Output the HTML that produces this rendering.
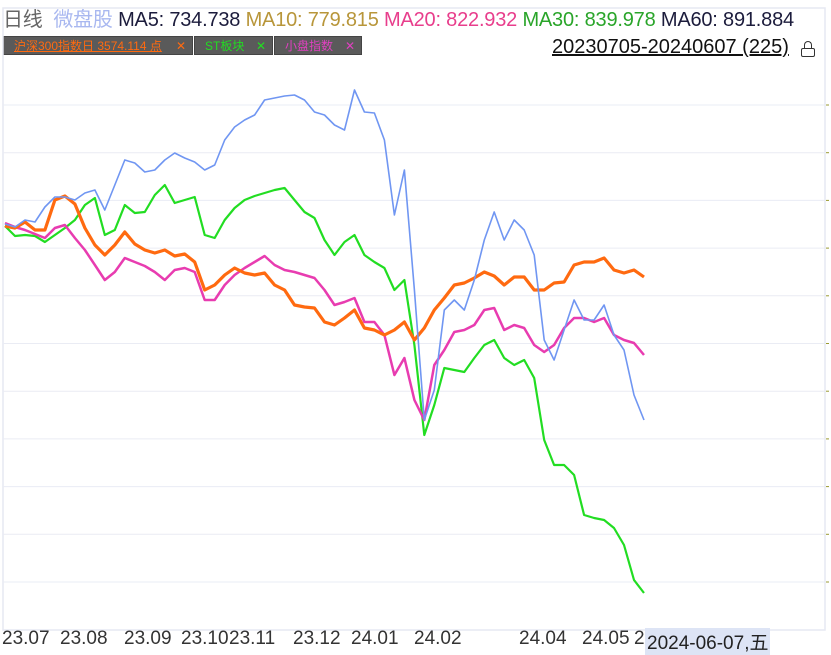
<!DOCTYPE html>
<html><head><meta charset="utf-8"><style>
body{margin:0;width:831px;height:653px;background:#fff;overflow:hidden;font-family:"Liberation Sans","Noto Sans CJK SC",sans-serif;position:relative}
.hdr{position:absolute;left:3px;top:3px;font-size:20px;white-space:nowrap;letter-spacing:-0.2px}
.tab{position:absolute;top:36px;height:19px;background:#5a5a5a;border:1px solid #444;font-size:12px;line-height:19px;box-sizing:border-box;padding-left:10px}
.tab span.x{position:absolute;right:6px;top:0}
.xl{position:absolute;top:628px;font-size:19px;color:#333}
</style></head><body>
<div class="hdr"><span style="color:#666">日线</span>&nbsp;&nbsp;<span style="color:#a9b8f0">微盘股</span>&nbsp;<span style="color:#1c1c3c">MA5: 734.738</span>&nbsp;<span style="color:#b8963a">MA10: 779.815</span>&nbsp;<span style="color:#e83e8c">MA20: 822.932</span>&nbsp;<span style="color:#2aa52a">MA30: 839.978</span>&nbsp;<span style="color:#1c1c3c">MA60: 891.884</span></div>
<div class="tab" style="left:3px;width:190px;color:#ff6a10"><u>沪深300指数日 3574.114 点</u><span class="x">✕</span></div>
<div class="tab" style="left:194px;width:79px;color:#22dd22">ST板块<span class="x">✕</span></div>
<div class="tab" style="left:274px;width:88px;color:#e040c0">小盘指数<span class="x">✕</span></div>
<div style="position:absolute;left:552px;top:36px;font-size:20px;color:#111;text-decoration:underline">20230705-20240607 (225)</div>
<div style="position:absolute;left:801px;top:48px;width:14px;height:9px;border:1.5px solid #333;border-radius:2px;box-sizing:border-box"></div>
<div style="position:absolute;left:804px;top:41px;width:8px;height:8px;border:1.5px solid #333;border-bottom:none;border-radius:4px 4px 0 0;box-sizing:border-box"></div>
<svg id="chart" width="831" height="653" style="position:absolute;left:0;top:0"></svg>
<div class="xl" style="left:2px">23.07</div><div class="xl" style="left:60px">23.08</div><div class="xl" style="left:124px">23.09</div><div class="xl" style="left:181px">23.10</div><div class="xl" style="left:229px">23.11</div><div class="xl" style="left:293px">23.12</div><div class="xl" style="left:351px">24.01</div><div class="xl" style="left:414px">24.02</div><div class="xl" style="left:519px">24.04</div><div class="xl" style="left:582px">24.05</div><div class="xl" style="left:634px">2</div>
<div style="position:absolute;left:645px;top:628px;font-size:19px;color:#222;background:#dde4f5;padding:0 2px">2024-06-07,五</div>
<script>
const blue=[0.2,-0.4,1,0.6,3.6,5.6,5.6,5,6.4,7,3,8,13,12.4,10.6,11,13,14.4,13.4,12.6,11,12,17,19.6,21,22,25,25.4,25.8,26,25,22.6,22,20,19,27,22.6,22.4,17,2,11,-13,-39,-33,-17,-15,-17,-11,-3,2.6,-3,1,-1,-6,-23,-27,-21,-15,-19,-19,-16,-22,-25,-34,-39];
const green=[-0.2,-2.2,-2,-2.2,-3.4,-2,-0.6,1,4,5.4,-2,-1,4,2.4,2.6,6,8,4.4,5,5.6,-2,-2.6,1,3.4,5,5.8,6.4,7,7.4,5,2.6,1.4,-3,-6,-3.4,-2,-6,-7.4,-8.6,-13,-11,-24,-42,-36,-28.6,-29,-29.4,-26.6,-24,-23,-26.6,-28,-27,-30.6,-43,-48,-48,-50,-58,-58.6,-59,-60.6,-64,-71,-73.6];
const orange=[-0.2,-0.6,0.6,-1,-1,5,5.8,4.2,-0.6,-4,-6,-4,-1.4,-3.8,-5,-5.6,-5,-6.2,-5.8,-7.4,-13,-12,-10,-8.6,-9.6,-10,-9.6,-12,-13,-16,-16.4,-16.6,-19.4,-20,-18.6,-17,-20.6,-21,-22,-21,-19.4,-23,-20.6,-17,-14.6,-12,-11.6,-10.6,-9.4,-10.2,-12,-10.4,-10.4,-13,-13,-11.6,-11.4,-8,-7.4,-7.4,-6.6,-9,-9.6,-9,-10.4];
const magenta=[0.4,-0.4,-1,-1.8,-2.6,-0.6,0,-2.6,-5,-8,-11,-9.4,-6.6,-7.4,-8.2,-9.4,-11,-9,-8.6,-9.4,-15,-15,-12,-10,-8.6,-7.4,-6.2,-8,-9,-9.4,-10,-10.6,-13,-16,-15.4,-14.6,-19.4,-19.4,-22,-30,-26.6,-35,-39,-28,-25,-21.4,-21,-20,-17,-16.6,-21,-20,-20.6,-24,-25.4,-24,-20.6,-18.6,-18.6,-19.4,-18.6,-22,-23,-23.6,-26];
const svg=document.getElementById('chart');
const NS='http://www.w3.org/2000/svg';
function xs(i){return 5+i*(639/(blue.length-1));}
function ys(v){return 225-v*5;}
function mk(t,a){const e=document.createElementNS(NS,t);for(const k in a)e.setAttribute(k,a[k]);svg.appendChild(e);return e;}
const fr=mk('rect',{x:3,y:8,width:822,height:622,fill:'none',stroke:'#e6e8f2','stroke-width':1.5});


for(let k=0;k<11;k++){const y=105+k*47.7;
const g=mk('line',{x1:3,x2:825,y1:y,y2:y,stroke:'#eaecf4','stroke-width':1});


const t=mk('line',{x1:826,x2:829,y1:y,y2:y,stroke:'#9a9a30','stroke-width':1});

}
function line(d,c,w,n){const p=mk('polyline',{points:d.map((v,i)=>xs(i).toFixed(1)+','+ys(v).toFixed(1)).join(' '),fill:'none',stroke:c,'stroke-width':w,'stroke-linejoin':'round'});

}
line(green,'#22dd22',2.2,'st-sector-line');
line(magenta,'#e83cb0',2.5,'small-cap-line');
line(orange,'#ff6a10',3.2,'hs300-line');
line(blue,'#7096f2',1.6,'micro-cap-line');
</script>
</body></html>
